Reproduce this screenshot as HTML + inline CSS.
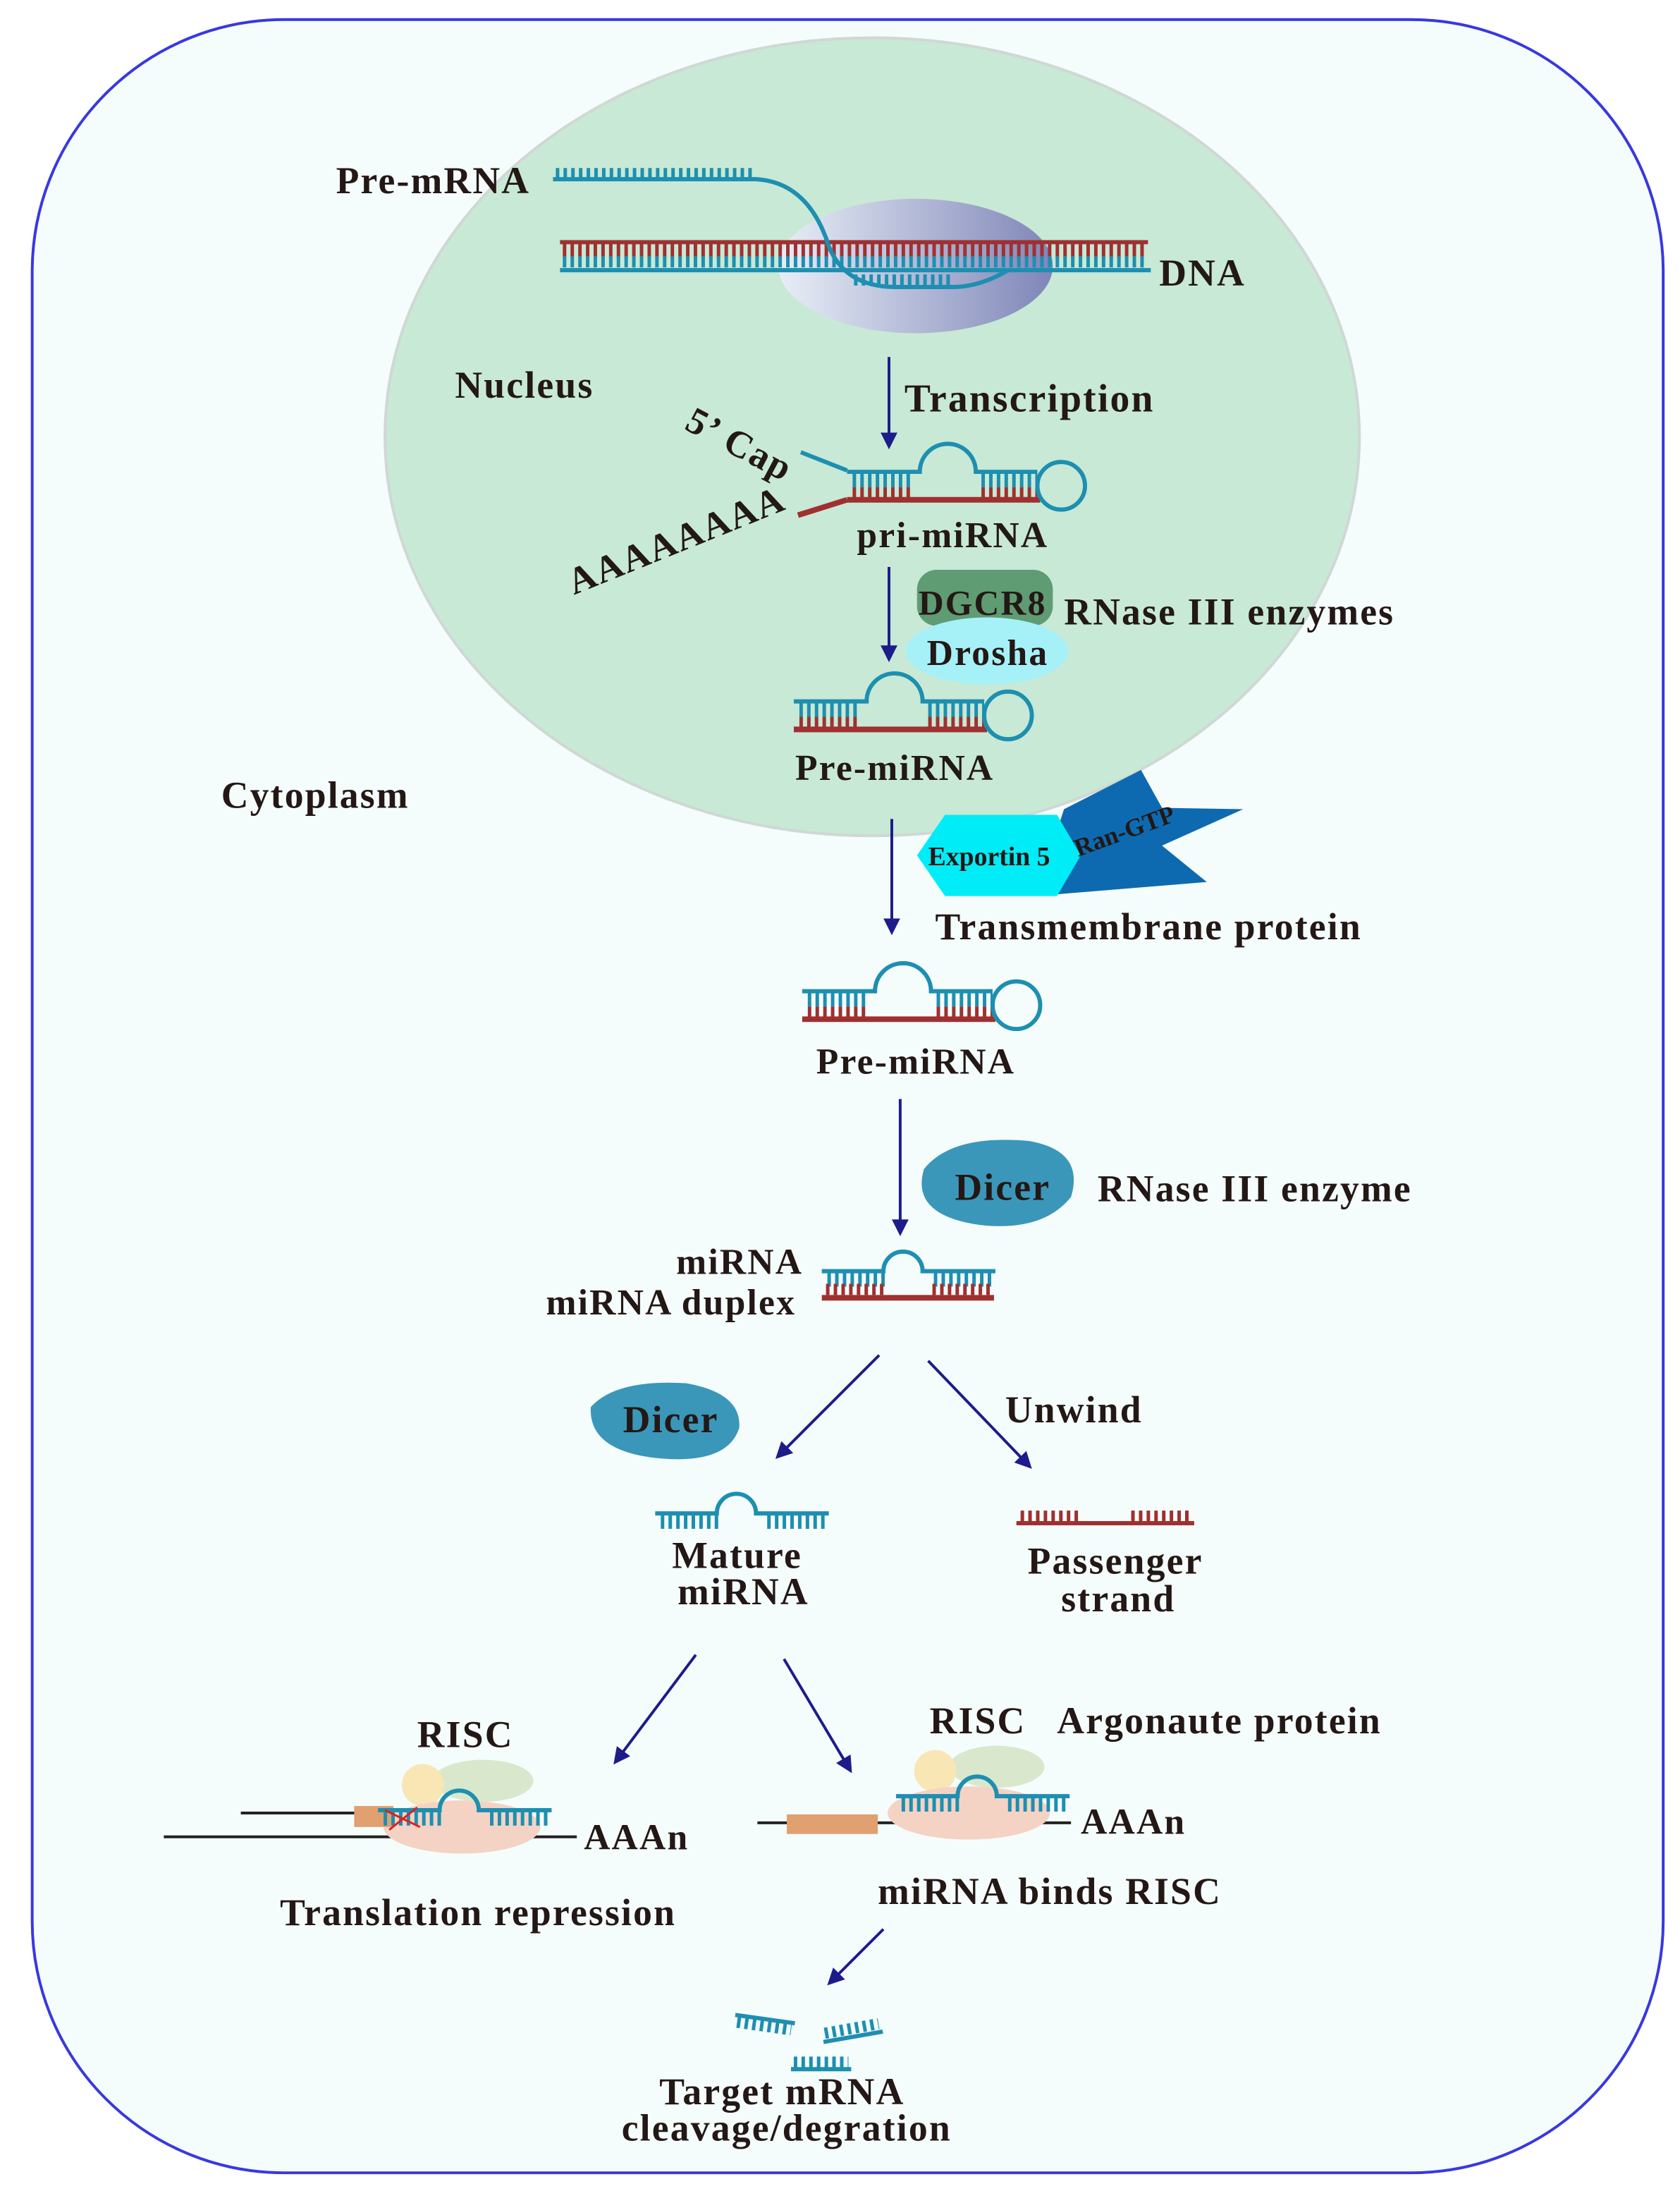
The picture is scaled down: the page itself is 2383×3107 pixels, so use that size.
<!DOCTYPE html>
<html><head><meta charset="utf-8"><style>
html,body{margin:0;padding:0;background:#fff}
svg{display:block}
text{font-family:"Liberation Serif",serif;font-weight:bold;fill:#231815;letter-spacing:1.1px}
</style></head><body>
<svg width="2383" height="3107" viewBox="0 0 1200 1565" preserveAspectRatio="none" xmlns="http://www.w3.org/2000/svg">
<defs>
<marker id="ar" markerWidth="12" markerHeight="12" refX="9" refY="6" orient="auto" markerUnits="userSpaceOnUse" viewBox="0 0 12 12">
<path d="M0,0 L12,6 L0,12 z" fill="#1c1c8a"/></marker>
<linearGradient id="gg" x1="0" x2="1"><stop offset="0" stop-color="#e8eef6"/><stop offset="1" stop-color="#7f86b8"/></linearGradient>
<g id="hp">
<line x1="4" y1="7" x2="48" y2="7" stroke="#1d8fb0" stroke-width="10" stroke-dasharray="2.5 3"/>
<line x1="96" y1="7" x2="136" y2="7" stroke="#1d8fb0" stroke-width="10" stroke-dasharray="2.5 3"/>
<line x1="4" y1="16" x2="48" y2="16" stroke="#a03030" stroke-width="8" stroke-dasharray="2.5 3"/>
<line x1="96" y1="16" x2="136" y2="16" stroke="#a03030" stroke-width="8" stroke-dasharray="2.5 3"/>
<path d="M0,1 H52 A20,20 0 0 1 92,1 H136" fill="none" stroke="#1d8fb0" stroke-width="3"/>
<line x1="0" y1="21" x2="138" y2="21" stroke="#a03030" stroke-width="4"/>
<circle cx="153" cy="11" r="17" fill="none" stroke="#1d8fb0" stroke-width="3"/>
</g>
<g id="dup">
<line x1="4" y1="7" x2="48" y2="7" stroke="#1d8fb0" stroke-width="10" stroke-dasharray="2.5 3"/>
<line x1="80" y1="7" x2="122" y2="7" stroke="#1d8fb0" stroke-width="10" stroke-dasharray="2.5 3"/>
<path d="M0,1 H44 A14,14 0 0 1 72,1 H124" fill="none" stroke="#1d8fb0" stroke-width="3"/>
</g>
</defs>
<rect x="23" y="14" width="1165" height="1538" rx="180" fill="#f5fcfc" stroke="#3838e0" stroke-width="2"/>
<ellipse cx="623" cy="312" rx="348" ry="285" fill="#c8e9d5" stroke="#cfd8d4" stroke-width="2"/>
<ellipse cx="654" cy="190" rx="98" ry="48" fill="url(#gg)"/>
<line x1="402" y1="179" x2="820" y2="179" stroke="#a03030" stroke-width="10" stroke-dasharray="2.5 3"/>
<line x1="400" y1="173" x2="820" y2="173" stroke="#a03030" stroke-width="3"/>
<line x1="402" y1="187" x2="820" y2="187" stroke="#1d8fb0" stroke-width="8" stroke-dasharray="2.5 3"/>
<line x1="400" y1="193" x2="822" y2="193" stroke="#1d8fb0" stroke-width="3"/>
<path d="M395,128 H540 Q575,130 590,170 Q600,205 640,205 H680 Q700,205 720,193" fill="none" stroke="#1d8fb0" stroke-width="3"/>
<line x1="397" y1="124" x2="538" y2="124" stroke="#1d8fb0" stroke-width="8" stroke-dasharray="2.5 3"/>
<line x1="610" y1="200" x2="680" y2="200" stroke="#1d8fb0" stroke-width="8" stroke-dasharray="2.5 3"/>
<text x="240" y="138" font-size="27">Pre-mRNA</text>
<text x="828" y="204" font-size="27">DNA</text>
<text x="325" y="284" font-size="27">Nucleus</text>
<line x1="635" y1="255" x2="635" y2="318" stroke="#1c1c8a" stroke-width="2" marker-end="url(#ar)"/>
<text x="646" y="294" font-size="28">Transcription</text>
<path d="M572,323 L605,336" stroke="#1d8fb0" stroke-width="3"/>
<path d="M570,368 L605,357" stroke="#a03030" stroke-width="4"/>
<use href="#hp" x="605" y="336"/>
<text x="488" y="306" font-size="27" transform="rotate(28 488 306)">5’ Cap</text>
<text x="410" y="425" font-size="27" transform="rotate(-22 410 425)">AAAAAAAA</text>
<text x="612" y="391" font-size="26">pri-miRNA</text>
<line x1="635" y1="405" x2="635" y2="470" stroke="#1c1c8a" stroke-width="2" marker-end="url(#ar)"/>
<rect x="655" y="407" width="97" height="40" rx="14" fill="#5f9b73"/>
<ellipse cx="705" cy="465" rx="58" ry="24" fill="#a6f0f8"/>
<text x="656" y="439" font-size="25">DGCR8</text>
<text x="662" y="475" font-size="26">Drosha</text>
<text x="760" y="446" font-size="27">RNase III enzymes</text>
<use href="#hp" x="567" y="500"/>
<text x="568" y="557" font-size="26">Pre-miRNA</text>
<text x="158" y="577" font-size="27">Cytoplasm</text>
<line x1="637" y1="585" x2="637" y2="665" stroke="#1c1c8a" stroke-width="2" marker-end="url(#ar)"/>
<polygon points="760,578 815,550 830,577 888,578 830,604 862,630 740,640" fill="#0d6ab0"/>
<polygon points="675,582 755,582 772,611 755,640 675,640 655,611" fill="#00ecf6"/>
<text x="663" y="618" font-size="19" style="letter-spacing:0">Exportin 5</text>
<text x="770" y="612" font-size="18" style="letter-spacing:0" transform="rotate(-20 770 612)">Ran-GTP</text>
<text x="668" y="671" font-size="27">Transmembrane protein</text>
<use href="#hp" x="573" y="707"/>
<text x="583" y="767" font-size="26">Pre-miRNA</text>
<line x1="643" y1="785" x2="643" y2="880" stroke="#1c1c8a" stroke-width="2" marker-end="url(#ar)"/>
<path d="M660,835 Q680,810 735,815 Q775,822 765,855 Q745,880 700,875 Q650,868 660,835 z" fill="#3a97b9"/>
<text x="682" y="857" font-size="27">Dicer</text>
<text x="784" y="858" font-size="27">RNase III enzyme</text>
<text x="483" y="910" font-size="26">miRNA</text>
<text x="390" y="939" font-size="26">miRNA duplex</text>
<use href="#dup" x="587" y="907"/>
<line x1="587" y1="927" x2="710" y2="927" stroke="#a03030" stroke-width="4"/>
<line x1="590" y1="921" x2="632" y2="921" stroke="#a03030" stroke-width="8" stroke-dasharray="2.5 3"/>
<line x1="666" y1="921" x2="708" y2="921" stroke="#a03030" stroke-width="8" stroke-dasharray="2.5 3"/>
<line x1="628" y1="968" x2="556" y2="1040" stroke="#1c1c8a" stroke-width="2" marker-end="url(#ar)"/>
<line x1="663" y1="972" x2="735" y2="1047" stroke="#1c1c8a" stroke-width="2" marker-end="url(#ar)"/>
<path d="M422,1005 Q440,985 490,988 Q530,995 528,1020 Q520,1045 475,1042 Q420,1038 422,1005 z" fill="#3a97b9"/>
<text x="445" y="1023" font-size="27">Dicer</text>
<text x="718" y="1016" font-size="27">Unwind</text>
<use href="#dup" x="468" y="1080"/>
<text x="480" y="1120" font-size="27">Mature</text>
<text x="484" y="1146" font-size="27">miRNA</text>
<line x1="726" y1="1088" x2="853" y2="1088" stroke="#a03030" stroke-width="3"/>
<line x1="729" y1="1083" x2="770" y2="1083" stroke="#a03030" stroke-width="8" stroke-dasharray="2.5 3"/>
<line x1="808" y1="1083" x2="850" y2="1083" stroke="#a03030" stroke-width="8" stroke-dasharray="2.5 3"/>
<text x="734" y="1124" font-size="27">Passenger</text>
<text x="758" y="1151" font-size="27">strand</text>
<line x1="497" y1="1182" x2="440" y2="1258" stroke="#1c1c8a" stroke-width="2" marker-end="url(#ar)"/>
<line x1="560" y1="1185" x2="607" y2="1264" stroke="#1c1c8a" stroke-width="2" marker-end="url(#ar)"/>
<text x="298" y="1248" font-size="27">RISC</text>
<line x1="117" y1="1312" x2="412" y2="1312" stroke="#222" stroke-width="2"/>
<line x1="172" y1="1295" x2="262" y2="1295" stroke="#222" stroke-width="2"/>
<ellipse cx="345" cy="1272" rx="36" ry="15" fill="#d9e8cc"/>
<circle cx="302" cy="1275" r="15" fill="#f8e6b4"/>
<ellipse cx="330" cy="1305" rx="56" ry="19" fill="#f4d3c5"/>
<rect x="253" y="1290" width="28" height="15" fill="#e0a070"/>
<use href="#dup" x="270" y="1292" />
<path d="M275,1293 L300,1305 M278,1307 L298,1291" stroke="#e02020" stroke-width="1.5"/>
<text x="417" y="1321" font-size="26">AAAn</text>
<text x="200" y="1375" font-size="27">Translation repression</text>
<text x="664" y="1238" font-size="27">RISC</text>
<text x="755" y="1238" font-size="27">Argonaute protein</text>
<line x1="541" y1="1302" x2="765" y2="1302" stroke="#222" stroke-width="2"/>
<ellipse cx="712" cy="1262" rx="34" ry="15" fill="#d9e8cc"/>
<circle cx="668" cy="1265" r="15" fill="#f8e6b4"/>
<ellipse cx="692" cy="1295" rx="58" ry="19" fill="#f4d3c5"/>
<rect x="562" y="1296" width="65" height="14" fill="#e0a070"/>
<use href="#dup" x="640" y="1282"/>
<text x="772" y="1310" font-size="26">AAAn</text>
<text x="627" y="1360" font-size="27">miRNA binds RISC</text>
<line x1="631" y1="1378" x2="593" y2="1416" stroke="#1c1c8a" stroke-width="2" marker-end="url(#ar)"/>
<g transform="rotate(8 545 1442)"><line x1="525" y1="1442" x2="568" y2="1442" stroke="#1d8fb0" stroke-width="3"/><line x1="527" y1="1447" x2="566" y2="1447" stroke="#1d8fb0" stroke-width="8" stroke-dasharray="2.5 3"/></g>
<g transform="rotate(-10 608 1450)"><line x1="587" y1="1455" x2="630" y2="1455" stroke="#1d8fb0" stroke-width="3"/><line x1="589" y1="1449" x2="628" y2="1449" stroke="#1d8fb0" stroke-width="8" stroke-dasharray="2.5 3"/></g>
<line x1="565" y1="1478" x2="608" y2="1478" stroke="#1d8fb0" stroke-width="3"/>
<line x1="567" y1="1473" x2="606" y2="1473" stroke="#1d8fb0" stroke-width="8" stroke-dasharray="2.5 3"/>
<text x="471" y="1503" font-size="27">Target mRNA</text>
<text x="444" y="1529" font-size="27">cleavage/degration</text>
</svg>
</body></html>
